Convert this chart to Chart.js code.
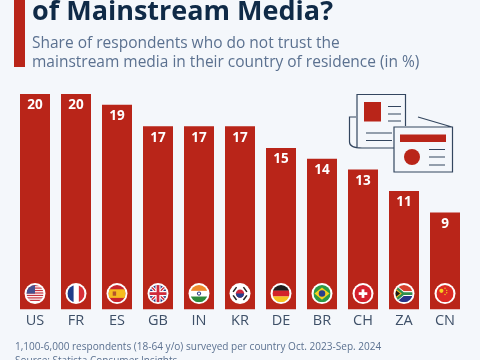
<!DOCTYPE html>
<html><head><meta charset="utf-8">
<script src="https://cdn.jsdelivr.net/npm/chart.js@4"></script>
<style>
html,body{margin:0;padding:0;background:#f4f7fb;width:480px;height:360px;overflow:hidden}
#wrap{position:relative;width:480px;height:360px;overflow:hidden;font-family:"Open Sans",sans-serif}
canvas{position:absolute;left:0;top:0}
.t{position:absolute;white-space:nowrap}
#title{left:32px;top:-12px;font-size:27px;line-height:44px;font-weight:700;color:#0f2a47}
#sub1,#sub2{left:32px;font-size:15.500px;line-height:22px;color:#5b7190}
#sub1{top:31px}#sub2{top:50px}
#foot1,#foot2{left:15px;font-size:10.050px;line-height:16px;color:#5b7190}
#foot1{top:338px}#foot2{top:352px}
#bar{position:absolute;left:14px;top:0;width:11px;height:67px;background:#b92519}
svg{position:absolute;left:0;top:0}
</style></head><body>
<div id="wrap">
<canvas id="c" width="480" height="360"></canvas>
<div id="bar"></div>
<div class="t" id="title">of Mainstream Media?</div>
<div class="t" id="sub1">Share of respondents who do not trust the</div>
<div class="t" id="sub2">mainstream media in their country of residence (in %)</div>
<div class="t" id="foot1">1,100-6,000 respondents (18-64 y/o) surveyed per country Oct. 2023-Sep. 2024</div>
<div class="t" id="foot2">Source: Statista Consumer Insights</div>
<svg width="480" height="360" fill="none" stroke="#33465f" stroke-width="1.2">
<path d="M357 148V94.500H405.500V126M394 148H362Q349.500 148 349.500 142V117H356"/>
<rect x="364" y="102" width="17" height="19.500" fill="#b92519" stroke="none"/>
<path d="M388 106.500H401M388 114H401M388 121H401M366 133H392M366 140.500H392"/>
<path d="M418 117L452 127M394 127H452.500V172H394Z"/>
<rect x="400" y="134.500" width="46" height="7.500" fill="#b92519" stroke="none"/>
<circle cx="412" cy="157" r="8" fill="#b92519" stroke="none"/>
<path d="M429 149.500H445M429 157H445M429 165H445"/>
</svg>
</div>
<script>
const categories=["US","FR","ES","GB","IN","KR","DE","BR","CH","ZA","CN"];
const shares=[20,20,19,17,17,17,15,14,13,11,9];
const barRed="#b92519";

function flag(g,code,x,y,r){
  const R=(c,a,b,w,h)=>{g.fillStyle=c;g.fillRect(x+a*r,y+b*r,w*r,h*r)};
  const L=(c,lw,pts)=>{g.strokeStyle=c;g.lineWidth=lw;g.beginPath();pts.forEach((p,i)=>{i?g.lineTo(x+p[0]*r,y+p[1]*r):g.moveTo(x+p[0]*r,y+p[1]*r)});g.stroke()};
  const C=(c,a,b,q)=>{g.fillStyle=c;g.beginPath();g.arc(x+a*r,y+b*r,q*r,0,7);g.fill()};
  g.save();g.beginPath();g.arc(x,y,r,0,7);g.clip();
  if(code==="US"){R("#fff",-1,-1,2,2);for(let i=0;i<7;i++)R("#c8333f",-1,-1+i*0.2857,2,0.143);R("#47508f",-1,-1,1,1);}
  if(code==="FR"){R("#fff",-1,-1,2,2);R("#1f3d8a",-1,-1,0.72,2);R("#d8303a",0.33,-1,0.67,2);}
  if(code==="ES"){R("#c8252c",-1,-1,2,2);R("#f6bd20",-1,-0.5,2,1);R("#b5552a",-0.5,-0.25,0.4,0.5);}
  if(code==="GB"){R("#26347c",-1,-1,2,2);L("#fff",3.4,[[-1,-1],[1,1]]);L("#fff",3.4,[[-1,1],[1,-1]]);L("#d02a3a",1.4,[[-1,-1],[1,1]]);L("#d02a3a",1.4,[[-1,1],[1,-1]]);R("#fff",-1,-0.3,2,0.6);R("#fff",-0.3,-1,0.6,2);R("#d02a3a",-1,-0.16,2,0.32);R("#d02a3a",-0.16,-1,0.32,2);}
  if(code==="IN"){R("#fff",-1,-1,2,2);R("#ef8a2c",-1,-1,2,0.68);R("#2e8b3a",-1,0.34,2,0.66);C("#2b3a80",0,0,0.24);C("#fff",0,0,0.13);}
  if(code==="KR"){R("#fff",-1,-1,2,2);C("#d0283c",0,0,0.48);g.save();g.beginPath();g.rect(x-r,y,2*r,r);g.clip();C("#24408e",0,0,0.48);g.restore();L("#222",1.5,[[-0.8,-0.2],[-0.4,-0.75]]);L("#222",1.5,[[0.8,-0.2],[0.4,-0.75]]);L("#222",1.5,[[-0.8,0.2],[-0.4,0.75]]);L("#222",1.5,[[0.8,0.2],[0.4,0.75]]);}
  if(code==="DE"){R("#1c1c1c",-1,-1,2,0.68);R("#d3232b",-1,-0.34,2,0.68);R("#f6c320",-1,0.33,2,0.67);}
  if(code==="BR"){R("#2c9a45",-1,-1,2,2);g.fillStyle="#f6d21f";g.beginPath();g.moveTo(x-0.88*r,y);g.lineTo(x,y-0.72*r);g.lineTo(x+0.88*r,y);g.lineTo(x,y+0.72*r);g.fill();C("#2c3f8c",0,0,0.38);}
  if(code==="CH"){R("#d4202c",-1,-1,2,2);R("#fff",-0.5,-0.16,1,0.32);R("#fff",-0.16,-0.5,0.32,1);}
  if(code==="ZA"){R("#d8402c",-1,-1,2,1);R("#28358a",-1,0,2,1);L("#fff",4.6,[[-1,-0.75],[-0.1,0],[1,0]]);L("#fff",4.6,[[-1,0.75],[-0.1,0],[1,0]]);L("#2f8f4c",2.8,[[-1,-0.75],[-0.1,0],[1,0]]);L("#2f8f4c",2.8,[[-1,0.75],[-0.1,0]]);g.fillStyle="#f3b81f";g.beginPath();g.moveTo(x-r,y-0.6*r);g.lineTo(x-0.25*r,y);g.lineTo(x-r,y+0.6*r);g.fill();g.fillStyle="#1a1a1a";g.beginPath();g.moveTo(x-r,y-0.42*r);g.lineTo(x-0.45*r,y);g.lineTo(x-r,y+0.42*r);g.fill();}
  if(code==="CN"){R("#dc2a24",-1,-1,2,2);C("#f7d21c",-0.42,-0.32,0.24);[[0,-0.62],[0.2,-0.38],[0.2,-0.1],[0,0.1]].forEach(p=>C("#f7d21c",p[0],p[1],0.08));}
  g.restore();
}

const overlay={id:"overlay",afterDatasetsDraw(ch){
  const g=ch.ctx,m=ch.getDatasetMeta(0);
  m.data.forEach((b,i)=>{
    g.save();
    g.font='700 13.500px "Open Sans"';g.fillStyle="#fff";g.textAlign="center";g.textBaseline="middle";
    g.fillText(String(shares[i]),b.x,b.y+11.5);
    const fy=ch.scales.y.bottom-16;
    g.fillStyle="#fff";g.beginPath();g.arc(b.x,fy,10.5,0,7);g.fill();
    flag(g,categories[i],b.x,fy,8.6);
    g.restore();
  });
}};

new Chart(document.getElementById("c"),{
  type:"bar",
  data:{labels:categories,datasets:[{data:shares,backgroundColor:barRed,borderWidth:0,barPercentage:30/41,categoryPercentage:1}]},
  options:{
    responsive:false,animation:false,
    layout:{padding:{left:14.500,right:14.500,top:94,bottom:27}},
    plugins:{legend:{display:false},tooltip:{enabled:false}},
    scales:{
      x:{grid:{display:false,drawTicks:false},border:{display:false},ticks:{color:"#3e5068",font:{family:'"Open Sans"',size:14.500},padding:3,maxRotation:0,autoSkip:false}},
      y:{display:false,min:0,max:20}
    }
  },
  plugins:[overlay]
});
</script>
</body></html>
